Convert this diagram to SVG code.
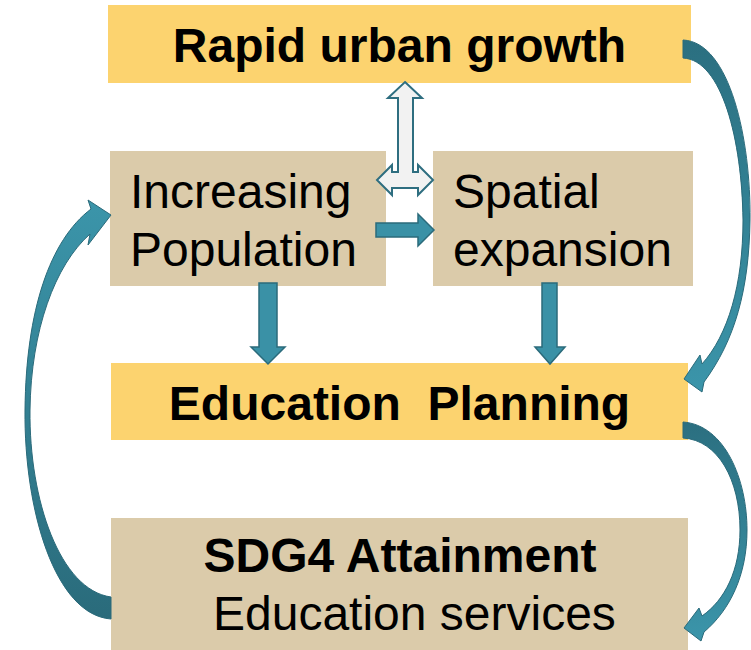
<svg xmlns="http://www.w3.org/2000/svg" width="751" height="650" viewBox="0 0 751 650">
  <defs>
    <style>
      .yellow { fill: #FCD36F; }
      .tan { fill: #DBCBAA; }
      .t { font-family: "Liberation Sans", Arial, sans-serif; font-size: 48px; fill: #000; }
      .b { font-weight: bold; }
      .solid { fill: #3A91A6; stroke: #2B6B7B; stroke-width: 1.5; stroke-linejoin: miter; }
      .hollow { fill: #F2F2F2; stroke: #2E6E80; stroke-width: 2; stroke-linejoin: miter; }
      .curve { stroke: #2A6A7A; stroke-width: 1; stroke-linejoin: miter; }
    </style>
    <linearGradient id="gDown1" gradientUnits="userSpaceOnUse" x1="0" y1="40" x2="0" y2="392">
      <stop offset="0" stop-color="#2B6F80"/>
      <stop offset="1" stop-color="#3B95AA"/>
    </linearGradient>
    <linearGradient id="gDown2" gradientUnits="userSpaceOnUse" x1="0" y1="422" x2="0" y2="641">
      <stop offset="0" stop-color="#2B6F80"/>
      <stop offset="1" stop-color="#3B95AA"/>
    </linearGradient>
    <linearGradient id="gUp" gradientUnits="userSpaceOnUse" x1="0" y1="619" x2="0" y2="200">
      <stop offset="0" stop-color="#2A6B7B"/>
      <stop offset="1" stop-color="#3B95AA"/>
    </linearGradient>
  </defs>

  <!-- boxes -->
  <g id="rapid-urban-growth">
    <rect class="yellow" x="108" y="5" width="583" height="78"/>
    <text class="t b" x="399.5" y="62" text-anchor="middle">Rapid urban growth</text>
  </g>
  <g id="increasing-population">
    <rect class="tan" x="110" y="151" width="276" height="135"/>
    <text class="t" x="130" y="208">Increasing</text>
    <text class="t" x="130" y="266">Population</text>
  </g>
  <g id="spatial-expansion">
    <rect class="tan" x="433" y="151" width="260" height="135"/>
    <text class="t" x="453" y="208">Spatial</text>
    <text class="t" x="453" y="266">expansion</text>
  </g>
  <g id="education-planning">
    <rect class="yellow" x="111" y="363" width="577" height="77"/>
    <text class="t b" x="399.5" y="420" text-anchor="middle" xml:space="preserve">Education  Planning</text>
  </g>
  <g id="sdg4-attainment">
    <rect class="tan" x="111" y="518" width="577" height="132"/>
    <text class="t b" x="400" y="572" text-anchor="middle">SDG4 Attainment</text>
    <text class="t" x="213" y="630">Education services</text>
  </g>

  <!-- connectors -->
  <g id="connectors">
    <!-- growth <-> population / expansion -->
    <path class="hollow" d="M405 82 L422 98 L413 98 L413 172 L418 172 L418 165 L433 180 L418 195 L418 188 L392 188 L392 195 L377 180 L392 165 L392 172 L398 172 L398 98 L388 98 Z"/>
    <!-- population -> expansion -->
    <path class="solid" d="M376 223 L418 223 L418 214 L434 230 L418 246 L418 237 L376 237 Z"/>
    <!-- population -> planning -->
    <path class="solid" d="M259 283 L277 283 L277 347 L285 347 L268 364 L251 347 L259 347 Z"/>
    <!-- expansion -> planning -->
    <path class="solid" d="M542 283 L557 283 L557 347 L565 347 L550 364 L535 347 L542 347 Z"/>
    <!-- growth -> planning -->
    <path class="curve" fill="url(#gDown1)" d="M683 40 C730 42 751 140 750 220 C749 290 735 340 704 382 L702 392 L684 379 L700 355 L702 364 C728 335 743 285 743 220 C742 140 722 60 683 58 Z"/>
    <!-- planning -> attainment -->
    <path class="curve" fill="url(#gDown2)" d="M683 422 C725 425 747 480 747 530 C747 575 730 610 704 632 L701 641 L684 628 L699 608 L702 616 C725 600 740 570 740 530 C740 480 718 440 683 438 Z"/>
    <!-- attainment -> population -->
    <path class="curve" fill="url(#gUp)" d="M111 619 C55 615 24 510 25 410 C26 310 50 240 91 209 L88 200 L111 215 L88 245 L90 234 C55 265 31 330 30 410 C29 500 60 590 111 597 Z"/>
  </g>
</svg>
